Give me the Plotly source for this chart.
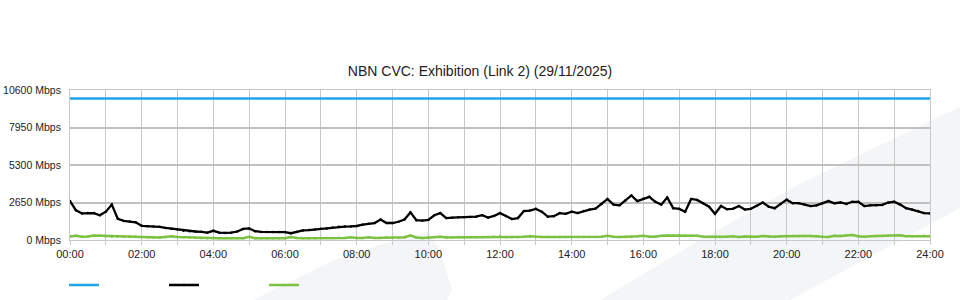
import plotly.graph_objects as go

# ---- data -------------------------------------------------------------
TITLE = "NBN CVC: Exhibition (Link 2) (29/11/2025)"

# sample times (10-minute samples, in minutes after midnight)
times_min = list(range(0, 24 * 60 + 1, 10))

capacity_mbps = [10000] * len(times_min)

black_mbps = [
    2750, 2100, 1880, 1900, 1900, 1750,
    2000, 2500, 1500, 1350, 1300, 1250,
    1000, 980, 950, 930, 850, 800,
    740, 660, 620, 600, 580, 520,
    650, 520, 500, 520, 600, 780,
    820, 620, 570, 570, 570, 570,
    560, 480, 560, 680, 700, 740,
    800, 820, 880, 940, 950, 960,
    990, 1080, 1150, 1200, 1450, 1200,
    1200, 1290, 1450, 1950, 1400, 1370,
    1420, 1750, 1900, 1550, 1580, 1600,
    1600, 1620, 1650, 1750, 1580, 1700,
    1900, 1700, 1480, 1550, 2050, 2080,
    2200, 2000, 1650, 1680, 1900, 1850,
    2000, 1900, 2050, 2150, 2220, 2550,
    2900, 2500, 2450, 2800, 3150, 2750,
    2920, 3050, 2700, 2500, 3000, 2250,
    2200, 2000, 2900, 2830, 2600, 2350,
    1850, 2400, 2180, 2200, 2400, 2150,
    2200, 2400, 2650, 2350, 2250, 2550,
    2850, 2600, 2600, 2500, 2400, 2450,
    2600, 2750, 2600, 2650, 2550, 2700,
    2700, 2400, 2450, 2450, 2480, 2650,
    2700, 2500, 2250, 2150, 2050, 1900,
    1880,
]

green_mbps = [
    250, 300, 230, 240, 310, 300,
    240, 230, 230, 230, 230, 230,
    190, 170, 170, 170, 220, 260,
    220, 200, 190, 160, 130, 130,
    120, 120, 120, 120, 120, 130,
    220, 130, 130, 130, 130, 130,
    130, 210, 140, 130, 130, 130,
    140, 150, 140, 160, 140, 200,
    140, 150, 200, 150, 150, 170,
    160, 160, 200, 320, 180, 150,
    160, 200, 230, 180, 200, 220,
    200, 190, 190, 200, 220, 230,
    240, 200, 190, 200, 230, 260,
    220, 220, 220, 220, 220, 220,
    220, 220, 220, 220, 220, 230,
    300, 230, 220, 220, 220, 270,
    300, 230, 230, 300, 310, 310,
    310, 310, 300, 300, 230, 220,
    220, 220, 230, 260, 220, 250,
    220, 230, 280, 230, 230, 260,
    280, 280, 280, 290, 280, 280,
    230, 220, 300, 280, 330, 360,
    260, 230, 260, 280, 280, 300,
    330, 330, 260, 260, 280, 300,
    260,
]

y_ticks = [0, 2650, 5300, 7950, 10600]
y_tick_labels = [f"{v} Mbps" for v in y_ticks]
x_hours = list(range(0, 25))
x_tick_labels = [f"{h:02d}:00" if h % 2 == 0 else "" for h in x_hours]

# ---- figure -----------------------------------------------------------
hours = [m / 60 for m in times_min]

BLUE = "#1ea5e6"
BLACK = "#000000"
GREEN = "#7cc242"
GRID = "#c8c8c8"
FONT = "Liberation Sans, Arial, sans-serif"

fig = go.Figure()
fig.add_trace(go.Scatter(x=hours, y=capacity_mbps, mode="lines", name=" ",
                         line=dict(color=BLUE, width=2.5)))
fig.add_trace(go.Scatter(x=hours, y=black_mbps, mode="lines+markers", name=" ",
                         line=dict(color=BLACK, width=2.3),
                         marker=dict(size=2.5, color=BLACK)))
fig.add_trace(go.Scatter(x=hours, y=green_mbps, mode="lines+markers", name=" ",
                         line=dict(color=GREEN, width=2.5),
                         marker=dict(size=2.5, color=GREEN)))

# light background decoration (pixel outline -> paper coords)
def P(px, py):
    return (px - 70) / 860, (240 - py) / 150

def path(points):
    pts = [P(*p) for p in points]
    return "M " + " L ".join(f"{x:.4f},{y:.4f}" for x, y in pts) + " Z"

BG = "#f4f5f7"
shapes = [
    dict(type="path", xref="paper", yref="paper", layer="below",
         path=path([(600, 300), (700, 240), (803, 182), (960, 107),
                    (960, 208), (790, 300)]),
         fillcolor=BG, line=dict(width=0)),
    dict(type="path", xref="paper", yref="paper", layer="below",
         path=path([(253, 300), (330, 262), (400, 238), (428, 232),
                    (440, 250), (452, 290), (447, 300)]),
         fillcolor=BG, line=dict(width=0)),
]

fig.update_layout(
    width=960, height=300,
    margin=dict(l=70, r=30, t=90, b=60, autoexpand=False),
    paper_bgcolor="white",
    plot_bgcolor="rgba(0,0,0,0)",
    font=dict(family=FONT, size=11, color="#222222"),
    title=dict(text=TITLE, x=0.5, xanchor="center", y=1 - 71 / 300,
               yref="container", yanchor="middle",
               font=dict(size=14, color="#222222")),
    shapes=shapes,
    showlegend=True,
    legend=dict(orientation="h", xref="container", x=64 / 960, xanchor="left",
                yref="container", y=1 - 285 / 300, yanchor="middle",
                entrywidth=55, entrywidthmode="pixels",
                itemwidth=30, font=dict(size=11), bgcolor="rgba(0,0,0,0)"),
    hovermode=False,
)
fig.update_xaxes(range=[0, 24], tickvals=x_hours, ticktext=x_tick_labels,
                 showgrid=True, gridcolor=GRID, gridwidth=1,
                 showline=True, linecolor=GRID, linewidth=1, mirror=True,
                 ticks="outside", ticklen=4, tickcolor=GRID, automargin=False,
                 zeroline=False, tickfont=dict(size=11, color="#222222"))
fig.update_yaxes(range=[0, 10600], tickvals=y_ticks, ticktext=y_tick_labels,
                 showgrid=True, gridcolor="#c0c0c0", gridwidth=1.5,
                 showline=True, linecolor=GRID, linewidth=1, mirror=True,
                 ticks="outside", ticklen=6, tickcolor="rgba(0,0,0,0)",
                 automargin=False,
                 zeroline=False, tickfont=dict(size=10.5, color="#222222"))

fig.write_html("out.html")
